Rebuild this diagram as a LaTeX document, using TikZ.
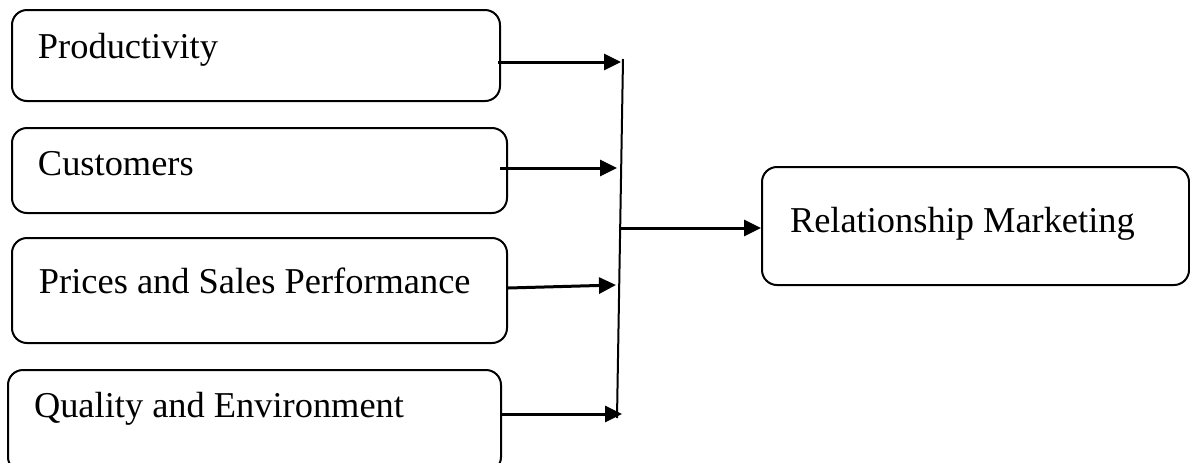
\documentclass[tikz,border=0pt]{standalone}
\usepackage{fontspec}
\setmainfont{Liberation Serif}
\usetikzlibrary{arrows.meta}

\newcommand{\boxfont}{\fontsize{18.2pt}{22pt}\selectfont}

\begin{document}
\begin{tikzpicture}[x=0.5pt, y=-0.5pt, line width=1pt,
    box/.style={draw, rounded corners=7.5pt, inner sep=0pt},
    boxtext/.style={anchor=base west, inner sep=0pt, font=\boxfont},
    link/.style={line width=1.5pt, -{Triangle[length=8.5pt, width=8pt]}}]
        \useasboundingbox (0,0) rectangle (1190,462);

        % Define coordinates
        \coordinate (bar_top) at (623, 59);
        \coordinate (bar_bottom) at (617, 418);
        \coordinate (tip_prod) at (621, 62);
        \coordinate (tip_cust) at (617, 168);
        \coordinate (tip_price) at (616, 285);
        \coordinate (tip_qual) at (622, 414);
        \coordinate (joint) at (620, 228);

        % Draw the factor boxes on the left
        \node[box, minimum width=244pt, minimum height=45.5pt] (prod) at (256, 55.5) {};
        \node[boxtext] at (37, 58) {Productivity};

        \node[box, minimum width=247.5pt, minimum height=42.5pt] (cust) at (259.5, 170.5) {};
        \node[boxtext] at (37, 175) {Customers};

        \node[box, minimum width=247.5pt, minimum height=52.5pt] (price) at (259.5, 290.5) {};
        \node[boxtext] at (38, 293) {Prices and Sales Performance};

        \node[box, minimum width=246.5pt, minimum height=51pt] (qual) at (254.5, 421) {};
        \node[boxtext] at (33, 417) {Quality and Environment};

        % Draw the result box on the right
        \node[box, minimum width=213.5pt, minimum height=59pt] (rel) at (975.5, 226) {};
        \node[boxtext] at (789, 232) {Relationship Marketing};

        % Draw arrows into the collecting bar
        \draw[link] (prod.east) ++(-3, 6.5) -- (tip_prod);
        \draw[link] (cust.east) ++(-8, -2.5) -- (tip_cust);
        \draw[link] (price.east) ++(0, -2.5) -- (tip_price);
        \draw[link] (qual.east) ++(0, -7) -- (tip_qual);
        \draw (bar_top) -- (bar_bottom);

        % Draw the arrow to the result
        \draw[link] (joint) -- (rel.west |- joint);
      \end{tikzpicture}
\end{document}
